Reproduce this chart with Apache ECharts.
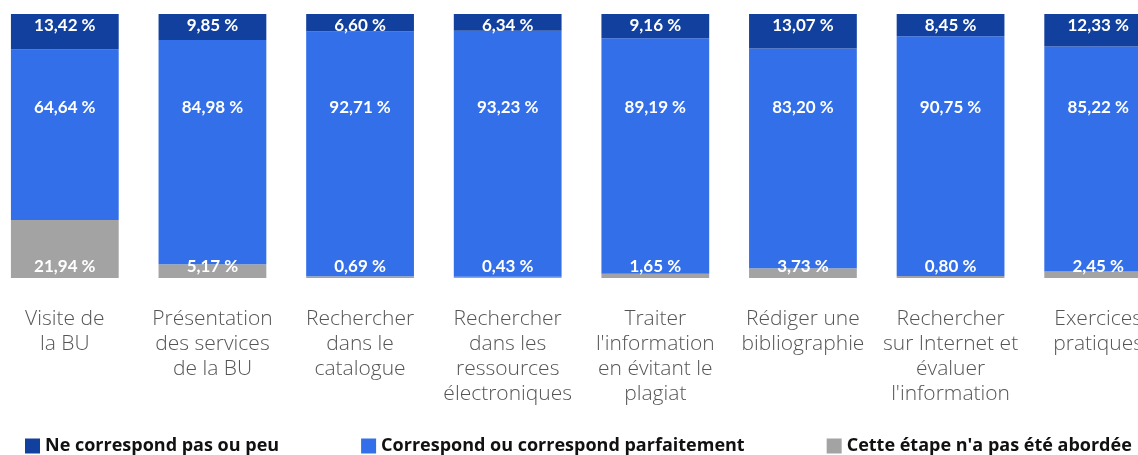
<!DOCTYPE html>
<html>
<head>
<meta charset="utf-8">
<script src="https://cdn.jsdelivr.net/npm/echarts@6/dist/echarts.min.js"></script>
<style>
  html, body { margin: 0; padding: 0; background: #fff; overflow: hidden; }
  /* the plot runs past the right edge, so the canvas is wider than the window */
  #chart { width: 1181px; height: 455px; margin-left: -9px; }
</style>
</head>
<body>
<div id="chart"></div>
<script>
  var categories = [
    "Visite de\nla BU",
    "Présentation\ndes services\nde la BU",
    "Rechercher\ndans le\ncatalogue",
    "Rechercher\ndans les\nressources\nélectroniques",
    "Traiter\nl'information\nen évitant le\nplagiat",
    "Rédiger une\nbibliographie",
    "Rechercher\nsur Internet et\névaluer\nl'information",
    "Exercices\npratiques"
  ];
  var seriesNames = [
    "Ne correspond pas ou peu",
    "Correspond ou correspond parfaitement",
    "Cette étape n'a pas été abordée"
  ];
  var notMatching = [13.42, 9.85, 6.60, 6.34, 9.16, 13.07, 8.45, 12.33];
  var matching = [64.64, 84.98, 92.71, 93.23, 89.19, 83.20, 90.75, 85.22];
  var notCovered = [21.94, 5.17, 0.69, 0.43, 1.65, 3.73, 0.80, 2.45];

  var colors = { dark: "#12409e", blue: "#336fe9", gray: "#a3a3a3" };

  function fmt(p) { return p.value.toFixed(2).replace(".", ",") + " %"; }
  var labelBase = { show: true, color: "#fff", fontFamily: "Lato", fontWeight: "bold", fontSize: 17, formatter: fmt };

  var chart = echarts.init(document.getElementById("chart"));
  chart.setOption({
    animation: false,
    grid: { left: 0, right: 0, top: 14, bottom: 177 },
    legend: {
      data: seriesNames, left: 34, top: 437, padding: 0, itemWidth: 15, itemHeight: 15, itemGap: 82,
      icon: "rect", textStyle: { fontFamily: "Open Sans", fontWeight: "bold", fontSize: 18, color: "#111" }
    },
    xAxis: {
      type: "category", data: categories,
      axisLine: { show: false }, axisTick: { show: false },
      axisLabel: { interval: 0, margin: 29, color: "#555", fontFamily: "Open Sans", fontWeight: 300, fontSize: 21, lineHeight: 25 }
    },
    yAxis: { type: "value", min: 0, max: 100, show: false },
    series: [
      {
        name: seriesNames[2], type: "bar", stack: "total", barWidth: "73%", data: notCovered,
        itemStyle: { color: colors.gray },
        label: Object.assign({}, labelBase, { position: "insideBottom", distance: 3 })
      },
      {
        name: seriesNames[1], type: "bar", stack: "total", data: matching,
        itemStyle: { color: colors.blue },
        label: Object.assign({}, labelBase, { position: "inside" }),
        // middle labels all sit on one line in the reference
        labelLayout: function (p) {
          return { x: p.rect.x + p.rect.width / 2, y: 108, align: "center", verticalAlign: "middle" };
        }
      },
      {
        name: seriesNames[0], type: "bar", stack: "total", data: notMatching,
        itemStyle: { color: colors.dark },
        label: Object.assign({}, labelBase, { position: "insideTop", distance: 3 })
      }
    ]
  });
</script>
</body>
</html>
